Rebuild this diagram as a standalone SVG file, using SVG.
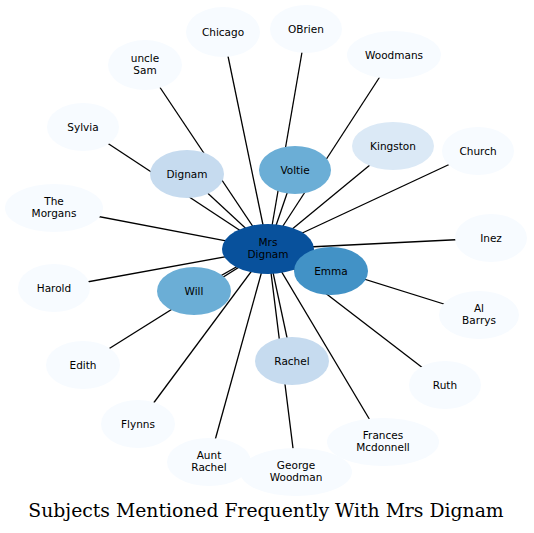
<svg xmlns="http://www.w3.org/2000/svg" width="534" height="533" viewBox="0 0 534 533">
<style>
.e{stroke:#000;stroke-width:1.3;fill:none}
.n ellipse{stroke:none}
.l0{fill:#f7fbff}.l1{fill:#dbe9f6}.l2{fill:#c6dbef}.l3{fill:#6baed6}.l4{fill:#4292c6}.l5{fill:#08519c}
text{font-family:"DejaVu Sans",sans-serif;font-size:10.5px;fill:#000;text-anchor:middle}
.t{font-family:"DejaVu Serif",serif;font-size:18.8px}
</style>
<rect width="534" height="533" fill="#fff"/>
<g id="edges">
<line class="e" x1="268" y1="249" x2="223" y2="32"/>
<line class="e" x1="268" y1="249" x2="306" y2="29"/>
<line class="e" x1="268" y1="249" x2="394" y2="55"/>
<line class="e" x1="268" y1="249" x2="145" y2="65"/>
<line class="e" x1="268" y1="249" x2="83" y2="127"/>
<line class="e" x1="268" y1="249" x2="187" y2="174"/>
<line class="e" x1="268" y1="249" x2="295" y2="170"/>
<line class="e" x1="268" y1="249" x2="393" y2="146"/>
<line class="e" x1="268" y1="249" x2="478" y2="151"/>
<line class="e" x1="268" y1="249" x2="54" y2="208"/>
<line class="e" x1="268" y1="249" x2="491" y2="238"/>
<line class="e" x1="268" y1="249" x2="54" y2="288"/>
<line class="e" x1="268" y1="249" x2="331" y2="271"/>
<line class="e" x1="268" y1="249" x2="194" y2="291"/>
<line class="e" x1="268" y1="249" x2="479" y2="315"/>
<line class="e" x1="268" y1="249" x2="83" y2="365"/>
<line class="e" x1="268" y1="249" x2="292" y2="361"/>
<line class="e" x1="268" y1="249" x2="445" y2="385"/>
<line class="e" x1="268" y1="249" x2="138" y2="424"/>
<line class="e" x1="268" y1="249" x2="383" y2="442"/>
<line class="e" x1="268" y1="249" x2="209" y2="462"/>
<line class="e" x1="268" y1="249" x2="296" y2="472"/>
</g>
<g id="mrs-dignam" class="n"><ellipse class="l5" cx="268" cy="249" rx="46" ry="25"/><text x="268" y="246">Mrs</text><text x="268" y="258">Dignam</text></g>
<g id="chicago" class="n"><ellipse class="l0" cx="223" cy="32" rx="37" ry="25"/><text x="223" y="35.5">Chicago</text></g>
<g id="obrien" class="n"><ellipse class="l0" cx="306" cy="29" rx="36" ry="24"/><text x="306" y="32.5">OBrien</text></g>
<g id="woodmans" class="n"><ellipse class="l0" cx="394" cy="55" rx="47" ry="24"/><text x="394" y="58.5">Woodmans</text></g>
<g id="uncle-sam" class="n"><ellipse class="l0" cx="145" cy="65" rx="37" ry="25"/><text x="145" y="62">uncle</text><text x="145" y="74">Sam</text></g>
<g id="sylvia" class="n"><ellipse class="l0" cx="83" cy="127" rx="36" ry="24"/><text x="83" y="130.5">Sylvia</text></g>
<g id="dignam" class="n"><ellipse class="l2" cx="187" cy="174" rx="37" ry="24"/><text x="187" y="177.5">Dignam</text></g>
<g id="voltie" class="n"><ellipse class="l3" cx="295" cy="170" rx="36" ry="24"/><text x="295" y="173.5">Voltie</text></g>
<g id="kingston" class="n"><ellipse class="l1" cx="393" cy="146" rx="41" ry="24"/><text x="393" y="149.5">Kingston</text></g>
<g id="church" class="n"><ellipse class="l0" cx="478" cy="151" rx="36" ry="24"/><text x="478" y="154.5">Church</text></g>
<g id="the-morgans" class="n"><ellipse class="l0" cx="54" cy="208" rx="49" ry="24"/><text x="54" y="205">The</text><text x="54" y="217">Morgans</text></g>
<g id="inez" class="n"><ellipse class="l0" cx="491" cy="238" rx="36" ry="24"/><text x="491" y="241.5">Inez</text></g>
<g id="harold" class="n"><ellipse class="l0" cx="54" cy="288" rx="36" ry="24"/><text x="54" y="291.5">Harold</text></g>
<g id="emma" class="n"><ellipse class="l4" cx="331" cy="271" rx="37" ry="24"/><text x="331" y="274.5">Emma</text></g>
<g id="will" class="n"><ellipse class="l3" cx="194" cy="291" rx="37" ry="24"/><text x="194" y="294.5">Will</text></g>
<g id="al-barrys" class="n"><ellipse class="l0" cx="479" cy="315" rx="40" ry="24"/><text x="479" y="312">Al</text><text x="479" y="324">Barrys</text></g>
<g id="edith" class="n"><ellipse class="l0" cx="83" cy="365" rx="37" ry="24"/><text x="83" y="368.5">Edith</text></g>
<g id="rachel" class="n"><ellipse class="l2" cx="292" cy="361" rx="37" ry="24"/><text x="292" y="364.5">Rachel</text></g>
<g id="ruth" class="n"><ellipse class="l0" cx="445" cy="385" rx="36" ry="24"/><text x="445" y="388.5">Ruth</text></g>
<g id="flynns" class="n"><ellipse class="l0" cx="138" cy="424" rx="37" ry="24"/><text x="138" y="427.5">Flynns</text></g>
<g id="frances-mcdonnell" class="n"><ellipse class="l0" cx="383" cy="442" rx="56" ry="24"/><text x="383" y="439">Frances</text><text x="383" y="451">Mcdonnell</text></g>
<g id="aunt-rachel" class="n"><ellipse class="l0" cx="209" cy="462" rx="42" ry="24"/><text x="209" y="459">Aunt</text><text x="209" y="471">Rachel</text></g>
<g id="george-woodman" class="n"><ellipse class="l0" cx="296" cy="472" rx="56" ry="24"/><text x="296" y="469">George</text><text x="296" y="481">Woodman</text></g>
<text class="t" x="266" y="517">Subjects Mentioned Frequently With Mrs Dignam</text>
</svg>
